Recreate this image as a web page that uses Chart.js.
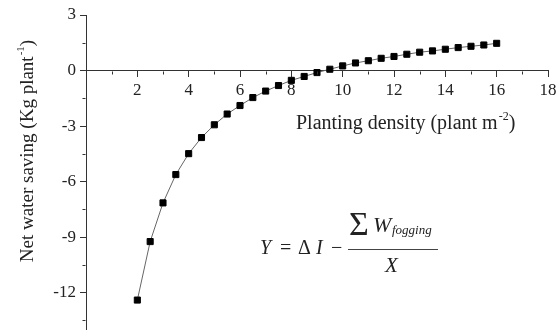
<!DOCTYPE html>
<html>
<head>
<meta charset="utf-8">
<script src="https://cdn.jsdelivr.net/npm/chart.js@4/dist/chart.umd.min.js"></script>
<style>
  body { margin: 0; background: #fff; }
  #wrap { width: 556px; height: 335px; position: relative; }
</style>
</head>
<body>
<div id="wrap"><canvas id="chart"></canvas></div>
<script>
// planting density (plant m-2) and net water saving (Kg plant-1)
const densities = [2, 2.5, 3, 3.5, 4, 4.5, 5, 5.5, 6, 6.5, 7, 7.5, 8, 8.5, 9, 9.5,
  10, 10.5, 11, 11.5, 12, 12.5, 13, 13.5, 14, 14.5, 15, 15.5, 16];
const savings = [-12.4, -9.24, -7.15, -5.62, -4.49, -3.62, -2.93, -2.35, -1.89, -1.46,
  -1.11, -0.81, -0.53, -0.32, -0.11, 0.07, 0.25, 0.41, 0.53, 0.66,
  0.76, 0.88, 0.99, 1.06, 1.15, 1.24, 1.31, 1.38, 1.47];

const xMinorTicks = [1, 3, 5, 7, 9, 11, 13, 15, 17];
const yMinorTicks = [-13.5, -10.5, -7.5, -4.5, -1.5, 1.5];

const serif = '"Liberation Serif", "Times New Roman", serif';
const axisColor = '#333';
const textColor = '#222';

// minor ticks, axis titles with superscripts and the formula
const extras = {
  id: 'extras',
  afterDraw(chart) {
    const ctx = chart.ctx;
    const xs = chart.scales.x;
    const ys = chart.scales.y;
    ctx.save();

    // minor ticks
    ctx.strokeStyle = axisColor;
    ctx.lineWidth = 1;
    const y0 = Math.round(ys.getPixelForValue(0)) + 0.5;
    xMinorTicks.forEach(v => {
      const px = Math.round(xs.getPixelForValue(v)) + 0.5;
      ctx.beginPath(); ctx.moveTo(px, y0); ctx.lineTo(px, y0 + 3); ctx.stroke();
    });
    const x0 = Math.round(ys.left + ys.width) - 0.5;
    yMinorTicks.forEach(v => {
      const py = Math.round(ys.getPixelForValue(v)) + 0.5;
      ctx.beginPath(); ctx.moveTo(x0, py); ctx.lineTo(x0 - 3, py); ctx.stroke();
    });

    ctx.fillStyle = textColor;
    ctx.textBaseline = 'alphabetic';
    ctx.textAlign = 'left';

    // x title
    const big = '20px ' + serif;
    const sup = '12px ' + serif;
    let x = 296;
    ctx.font = big;
    ctx.fillText('Planting density (plant m', x, 129);
    x += ctx.measureText('Planting density (plant m').width;
    ctx.font = sup;
    ctx.fillText('-2', x + 1, 120);
    x += ctx.measureText('-2').width + 1;
    ctx.font = big;
    ctx.fillText(')', x, 129);

    // y title
    const yBig = '19px ' + serif;
    const ySup = '11px ' + serif;
    const yMain = 'Net water saving (Kg plant';
    ctx.font = yBig;
    const w1 = ctx.measureText(yMain).width;
    const w3 = ctx.measureText(')').width;
    ctx.font = ySup;
    const w2 = ctx.measureText('-1').width + 1;
    const total = w1 + w2 + w3;
    ctx.translate(33, 151);
    ctx.rotate(-Math.PI / 2);
    ctx.font = yBig;
    ctx.fillText(yMain, -total / 2, 0);
    ctx.font = ySup;
    ctx.fillText('-1', -total / 2 + w1 + 1, -9);
    ctx.font = yBig;
    ctx.fillText(')', -total / 2 + w1 + w2, 0);
    ctx.setTransform(1, 0, 0, 1, 0, 0);

    // formula
    const it = 'italic 20px ' + serif;
    const up = '20px ' + serif;
    ctx.font = it; ctx.fillText('Y', 260, 254);
    ctx.font = up; ctx.fillText('=', 280, 254);
    ctx.fillText('\u0394', 298, 254);
    ctx.font = it; ctx.fillText('I', 316, 254);
    ctx.font = up; ctx.fillText('\u2212', 331, 254);
    ctx.font = '34px ' + serif; ctx.fillText('\u03A3', 349, 235);
    ctx.font = 'italic 22px ' + serif; ctx.fillText('W', 373, 232);
    ctx.font = 'italic 13px ' + serif; ctx.fillText('fogging', 392, 234);
    ctx.font = 'italic 21px ' + serif; ctx.fillText('X', 385, 272);
    ctx.strokeStyle = '#444';
    ctx.beginPath(); ctx.moveTo(348, 249.5); ctx.lineTo(438, 249.5); ctx.stroke();

    ctx.restore();
  }
};

const ctx = document.getElementById('chart');
const chart = new Chart(ctx, {
  type: 'line',
  data: {
    datasets: [{
      data: densities.map((d, i) => ({ x: d, y: savings[i] })),
      borderColor: '#666',
      borderWidth: 1,
      pointStyle: 'rect',
      pointRadius: 4.3,
      pointBackgroundColor: '#000',
      pointBorderColor: '#000',
      pointBorderWidth: 1,
      tension: 0,
    }],
  },
  plugins: [extras],
  options: {
    responsive: true,
    maintainAspectRatio: false,
    animation: false,
    layout: {
      padding: { top: 15, right: 8, bottom: 0, left: 0 },
    },
    scales: {
      x: {
        type: 'linear',
        position: { y: 0 },
        min: 0,
        max: 18,
        border: { display: true, color: axisColor, width: 1 },
        grid: { display: true, drawOnChartArea: false, drawTicks: true, tickLength: 6, tickColor: axisColor },
        ticks: {
          stepSize: 2,
          autoSkip: false,
          maxRotation: 0,
          padding: 4,
          color: textColor,
          font: { family: serif, size: 17 },
          callback: (v) => (v === 0 ? '' : v),
        },
        afterFit: (scale) => { scale.paddingLeft = 0; scale.paddingRight = 0; },
      },
      y: {
        position: 'left',
        min: -14,
        max: 3,
        border: { display: true, color: axisColor, width: 1 },
        grid: { display: true, drawOnChartArea: false, drawTicks: true, tickLength: 6, tickColor: axisColor },
        ticks: {
          stepSize: 3,
          includeBounds: false,
          padding: 4,
          color: textColor,
          font: { family: serif, size: 17 },
        },
        afterFit: (scale) => { scale.width = 86; scale.paddingTop = 0; scale.paddingBottom = 0; },
      },
    },
    plugins: {
      legend: { display: false },
      tooltip: { enabled: false },
    },
  },
});
</script>
</body>
</html>
